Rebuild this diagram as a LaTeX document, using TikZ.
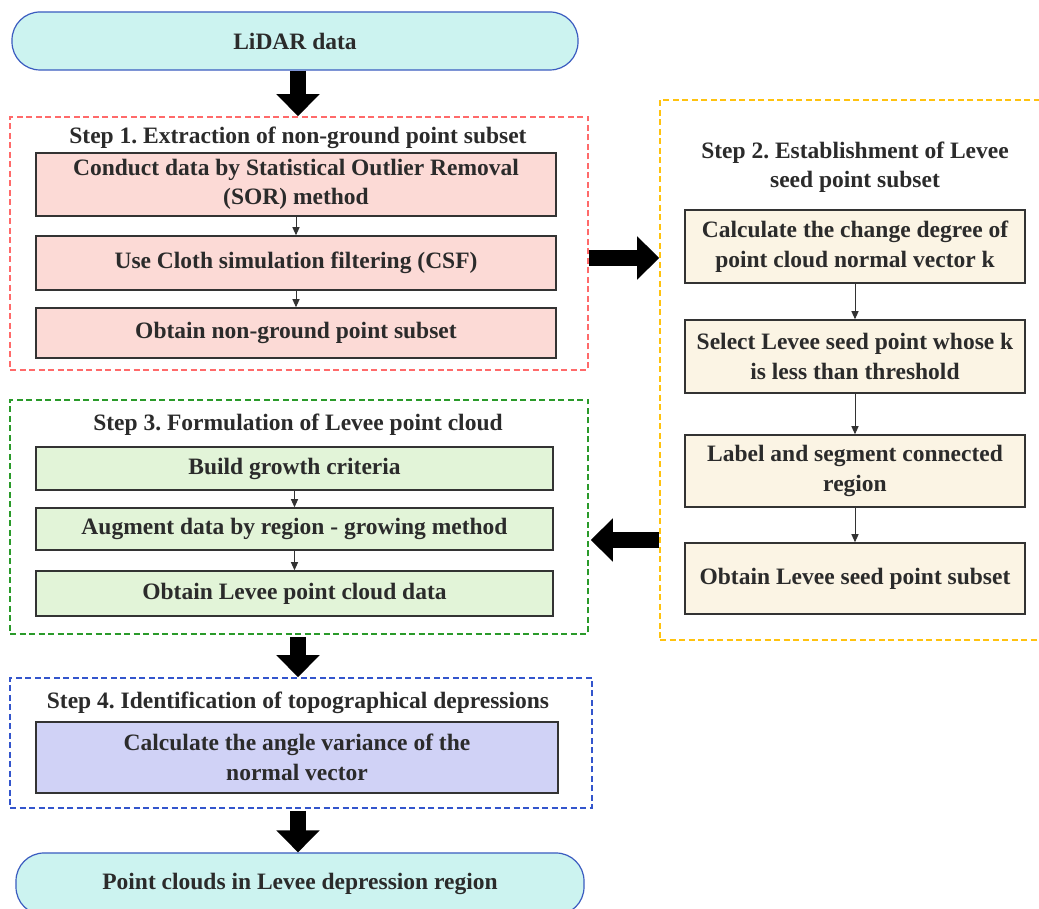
\documentclass[tikz,border=0pt]{standalone}
\usepackage{fontspec}
\setmainfont{Liberation Serif}
\usetikzlibrary{arrows.meta}
\frenchspacing
\definecolor{txt}{HTML}{2B2B2B}
\definecolor{cyanfill}{HTML}{CCF3F0}
\definecolor{termline}{HTML}{3A5BC0}
\definecolor{redd}{HTML}{FF6A6A}
\definecolor{pinkfill}{HTML}{FCDAD6}
\definecolor{yelld}{HTML}{FFC20E}
\definecolor{creamfill}{HTML}{FBF4E4}
\definecolor{greend}{HTML}{2A9A2A}
\definecolor{greenfill}{HTML}{E2F4D8}
\definecolor{blued}{HTML}{3355CC}
\definecolor{lavfill}{HTML}{D0D2F6}
\definecolor{boxline}{HTML}{333333}
\tikzset{
  x=1pt,y=1pt,
  every node/.style={font=\fontsize{23.5}{29.5}\selectfont\bfseries, text=txt, inner sep=0pt, align=center},
  term/.style={draw=termline, line width=1.2pt, fill=cyanfill, rounded corners=28pt},
  group/.style={draw=#1, dashed, dash pattern=on 6pt off 3.5pt, line width=1.6pt},
  procbox/.style={draw=boxline, line width=1.5pt, fill=#1},
  thin/.style={draw=boxline, line width=1pt, -{Triangle[width=7pt,length=8pt]}},
  big/.style={draw=black, line width=16pt, -{Triangle[width=42pt,length=22pt]}},
}
\begin{document}
\begin{tikzpicture}
\clip (0,0) rectangle (1039,909);
\fill[white] (0,0) rectangle (1039,909);
% terminals
\node[term, minimum width=566, minimum height=58] (lidar) at (295,868) {LiDAR data};
\node[term, minimum width=568, minimum height=62] (out) at (300,25) {Point clouds in Levee depression region};
% group boxes
\node[group=redd, minimum width=578, minimum height=253] (step1) at (299,665.5) {};
\node[group=yelld, minimum width=390, minimum height=540] (step2) at (855,539) {};
\node[group=greend, minimum width=578, minimum height=234] (step3) at (299,392) {};
\node[group=blued, minimum width=582, minimum height=130] (step4) at (301,166) {};
% titles
\node (t1) at (298,771) {Step 1. Extraction of non-ground point subset};
\node (t2) at (855,742) {Step 2. Establishment of Levee\\seed point subset};
\node (t3) at (298,484) {Step 3. Formulation of Levee point cloud};
\node (t4) at (298,206) {Step 4. Identification of topographical depressions};
% step 1
\node[procbox=pinkfill, minimum width=520, minimum height=63] (a1) at (296,724.5) {Conduct data by Statistical Outlier Removal\\(SOR) method};
\node[procbox=pinkfill, minimum width=520, minimum height=54] (a2) at (296,646) {Use Cloth simulation filtering (CSF)};
\node[procbox=pinkfill, minimum width=520, minimum height=50] (a3) at (296,576) {Obtain non-ground point subset};
% step 2
\node[procbox=creamfill, minimum width=340, minimum height=73] (b1) at (855,662.5) {Calculate the change degree of\\point cloud normal vector k};
\node[procbox=creamfill, minimum width=340, minimum height=73] (b2) at (855,552.5) {Select Levee seed point whose k\\is less than threshold};
\node[procbox=creamfill, minimum width=340, minimum height=72] (b3) at (855,438) {Label and segment connected\\region};
\node[procbox=creamfill, minimum width=340, minimum height=71] (b4) at (855,330.5) {Obtain Levee seed point subset};
% step 3
\node[procbox=greenfill, minimum width=517, minimum height=43] (c1) at (294.5,440.5) {Build growth criteria};
\node[procbox=greenfill, minimum width=517, minimum height=42] (c2) at (294.5,380) {Augment data by region - growing method};
\node[procbox=greenfill, minimum width=517, minimum height=45] (c3) at (294.5,315.5) {Obtain Levee point cloud data};
% step 4
\node[procbox=lavfill, minimum width=522, minimum height=71] (d1) at (297,151.5) {Calculate the angle variance of the\\normal vector};
% thin arrows
\draw[thin] (a1) -- (a2);
\draw[thin] (a2) -- (a3);
\draw[thin] (b1) -- (b2);
\draw[thin] (b2) -- (b3);
\draw[thin] (b3) -- (b4);
\draw[thin] (c1) -- (c2);
\draw[thin] (c2) -- (c3);
% big arrows
\draw[big] (lidar.south -| 298,0) -- (step1.north -| 298,0);
\draw[big] (step1.east |- 0,651) -- (step2.west |- 0,651);
\draw[big] (step2.west |- 0,369) -- ([xshift=2pt]step3.east |- 0,369);
\draw[big] ([yshift=-2pt]step3.south -| 298,0) -- (step4.north -| 298,0);
\draw[big] ([yshift=-2pt]step4.south -| 298,0) -- (out.north -| 298,0);
\end{tikzpicture}
\end{document}
